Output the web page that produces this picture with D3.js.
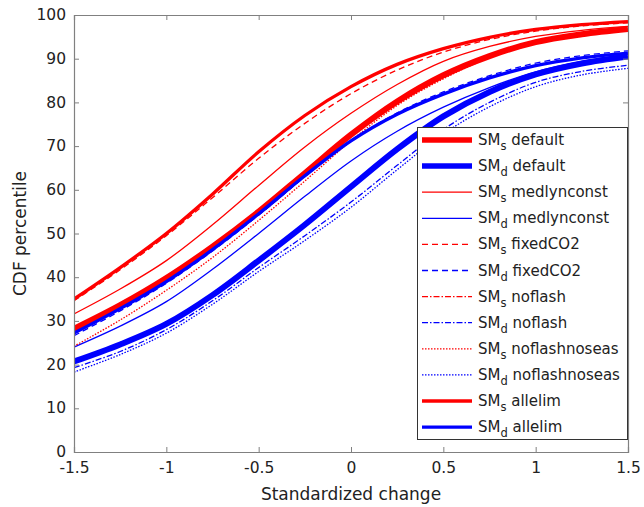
<!DOCTYPE html>
<html lang="en">
<head>
<meta charset="UTF-8">
<script src="https://cdnjs.cloudflare.com/ajax/libs/d3/7.8.5/d3.min.js"></script>
<title>CDF percentile</title>
<style>
  body { margin: 0; background: #fff; }
  text { font-family: "DejaVu Sans", sans-serif; fill: #222; }
</style>
</head>
<body>
<script>
// standardized change sample points
var xVals = [-1.5, -1.25, -1, -0.75, -0.5, -0.25, 0, 0.25, 0.5, 0.75, 1, 1.25, 1.5];
var xTicks = [-1.5, -1, -0.5, 0, 0.5, 1, 1.5];
var yTicks = [0, 10, 20, 30, 40, 50, 60, 70, 80, 90, 100];

// CDF percentiles
var smsDefault = [28.2, 33.6, 39.8, 47, 55, 63.8, 72.6, 80.2, 86.2, 90.6, 93.8, 95.6, 96.8];
var smdDefault = [20.7, 24.6, 29.3, 35.9, 43.8, 52, 60.7, 69.3, 76.8, 82.4, 86.4, 88.9, 90.5];
var smsMedlyn  = [31.6, 37.3, 43.8, 52, 61, 69.8, 77.5, 84.1, 89.4, 92.8, 95.1, 96.5, 97.4];
var smdMedlyn  = [24, 28.8, 34.4, 41.8, 50, 58.5, 66.6, 73.4, 78.9, 83.4, 87, 89.4, 91];
var smsFixed   = [34.6, 41.7, 49.5, 58.2, 67.2, 75.2, 82, 87.4, 91.5, 94.4, 96.3, 97.5, 98.2];
var smdFixed   = [26.6, 32.3, 38.6, 46, 54.2, 63, 71.2, 77.6, 82.4, 86.1, 89, 90.7, 91.8];
var smsNoflash = [27.3, 32.8, 39, 46.3, 54.5, 63.3, 72.2, 80, 85.9, 90.5, 93.6, 95.5, 96.7];
var smdNoflash = [19.3, 23, 28, 34.6, 42.2, 49.5, 57.2, 65.6, 73.8, 80, 84.6, 87.1, 88.5];
var smsNoseas  = [24.2, 30.2, 37, 44.5, 53, 62, 71.2, 79.3, 85.4, 90.2, 93.4, 95.3, 96.5];
var smdNoseas  = [18.3, 22.3, 27.2, 33.8, 41.3, 48.4, 56, 64.6, 72.8, 79, 83.6, 86.3, 87.8];
var smsAllelim = [35, 42.2, 50, 59, 68.7, 77, 83.6, 88.7, 92.3, 94.9, 96.7, 97.8, 98.5];
var smdAllelim = [27.2, 32.8, 39, 46.3, 54.5, 63.2, 71.2, 77.3, 81.9, 85.6, 88.4, 90.2, 91.3];

var seriesSub   = ['s', 'd', 's', 'd', 's', 'd', 's', 'd', 's', 'd', 's', 'd'];
var seriesName  = ['default', 'default', 'medlynconst', 'medlynconst', 'fixedCO2', 'fixedCO2',
                   'noflash', 'noflash', 'noflashnoseas', 'noflashnoseas', 'allelim', 'allelim'];
var seriesVals  = [smsDefault, smdDefault, smsMedlyn, smdMedlyn, smsFixed, smdFixed,
                   smsNoflash, smdNoflash, smsNoseas, smdNoseas, smsAllelim, smdAllelim];

// line styles per series
var styles = [
  { c: '#ff0000', w: 6, d: null }, { c: '#0000ff', w: 6, d: null },
  { c: '#ff0000', w: 1.3, d: null }, { c: '#0000ff', w: 1.3, d: null },
  { c: '#ff0000', w: 1.3, d: '6,4' }, { c: '#0000ff', w: 1.3, d: '6,4' },
  { c: '#ff0000', w: 1.3, d: '6,2,1.5,2' }, { c: '#0000ff', w: 1.3, d: '6,2,1.5,2' },
  { c: '#ff0000', w: 1.3, d: '1.5,1.5' }, { c: '#0000ff', w: 1.3, d: '1.5,1.5' },
  { c: '#ff0000', w: 3.3, d: null }, { c: '#0000ff', w: 3.3, d: null }
];

var W = 644, H = 507;
var m = { left: 74, right: 16, top: 15, bottom: 55 };
var x = d3.scaleLinear().domain([-1.5, 1.5]).range([m.left, W - m.right]);
var y = d3.scaleLinear().domain([0, 100]).range([H - m.bottom, m.top]);

var svg = d3.select('body').append('svg').attr('width', W).attr('height', H);

svg.append('clipPath').attr('id', 'clip').append('rect')
  .attr('x', m.left).attr('y', m.top)
  .attr('width', x(1.5) - x(-1.5)).attr('height', y(0) - y(100));

var line = d3.line()
  .x(function (d, i) { return x(xVals[i]); })
  .y(function (d) { return y(d); })
  .curve(d3.curveCatmullRom.alpha(0.5));

var plot = svg.append('g').attr('clip-path', 'url(#clip)');
seriesVals.forEach(function (vals, i) {
  plot.append('path')
    .attr('d', line(vals))
    .attr('fill', 'none')
    .attr('stroke', styles[i].c)
    .attr('stroke-width', styles[i].w)
    .attr('stroke-dasharray', styles[i].d);
});

// axes, ticks inside, box on
var axisCol = '#808080';
var tk = 5;
var gx = svg.append('g').attr('transform', 'translate(0,' + y(0) + ')')
  .call(d3.axisBottom(x).tickValues(xTicks).tickSize(-tk).tickPadding(10)
    .tickFormat(function (d) { return d; }));
var gy = svg.append('g').attr('transform', 'translate(' + m.left + ',0)')
  .call(d3.axisLeft(y).tickValues(yTicks).tickSize(-tk).tickPadding(8));
var gt = svg.append('g').attr('transform', 'translate(0,' + y(100) + ')')
  .call(d3.axisTop(x).tickValues(xTicks).tickSize(-tk).tickFormat(''));
var gr = svg.append('g').attr('transform', 'translate(' + x(1.5) + ',0)')
  .call(d3.axisRight(y).tickValues(yTicks).tickSize(-tk).tickFormat(''));
[gx, gy, gt, gr].forEach(function (g) {
  g.select('.domain').attr('stroke', axisCol).attr('stroke-width', 1.2);
  g.selectAll('.tick line').attr('stroke', axisCol);
  g.selectAll('.tick text').style('font-family', '"DejaVu Sans", sans-serif')
    .style('font-size', '15.5px').attr('fill', '#222');
});
gy.selectAll('.tick text').attr('dy', '0.3em');

svg.append('text')
  .attr('x', (x(-1.5) + x(1.5)) / 2).attr('y', 500)
  .attr('text-anchor', 'middle').style('font-size', '17px')
  .text('Standardized change');
svg.append('text')
  .attr('transform', 'translate(26,' + ((y(0) + y(100)) / 2) + ') rotate(-90)')
  .attr('text-anchor', 'middle').style('font-size', '17px')
  .text('CDF percentile');

// legend
var lg = svg.append('g');
lg.append('rect')
  .attr('x', 417.5).attr('y', 127.5).attr('width', x(1.5) - 418).attr('height', 312)
  .attr('fill', '#fff').attr('stroke', '#333').attr('stroke-width', 1);
seriesName.forEach(function (name, i) {
  var yy = 140 + i * 26.1;
  lg.append('line')
    .attr('x1', 422).attr('x2', 472).attr('y1', yy).attr('y2', yy)
    .attr('stroke', styles[i].c)
    .attr('stroke-width', Math.min(styles[i].w, 5.5))
    .attr('stroke-dasharray', styles[i].d);
  var t = lg.append('text').attr('x', 478).attr('y', yy + 5).style('font-size', '15px');
  t.append('tspan').text('SM');
  t.append('tspan').attr('dy', 5).style('font-size', '11.5px').text(seriesSub[i]);
  t.append('tspan').attr('dy', -5).text(' ' + name);
});
</script>
</body>
</html>
